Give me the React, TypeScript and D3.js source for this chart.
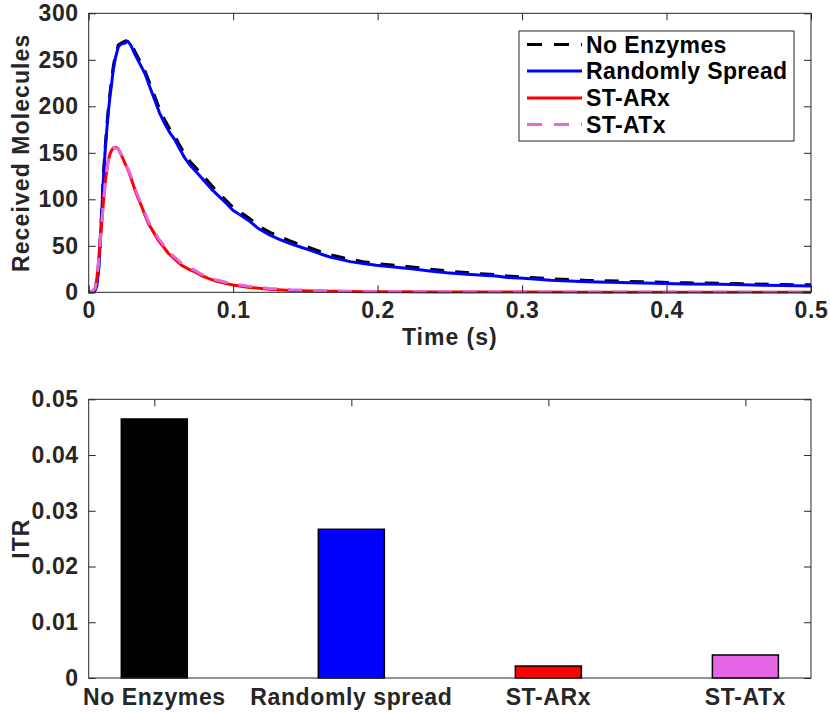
import React, { useEffect, useRef } from "react";
import * as d3 from "d3";

// received molecules vs time
const timeFull = [0, 0.002, 0.004, 0.0055, 0.0068, 0.0078, 0.009, 0.0101, 0.0113, 0.0125, 0.0136, 0.0147, 0.016, 0.017, 0.0185, 0.0205, 0.0225, 0.0251, 0.027, 0.029, 0.032, 0.035, 0.039, 0.0425, 0.0459, 0.049, 0.0528, 0.056, 0.0597, 0.063, 0.0667, 0.07, 0.0736, 0.077, 0.0805, 0.085, 0.0897, 0.095, 0.1, 0.105, 0.1117, 0.118, 0.1255, 0.132, 0.139, 0.146, 0.153, 0.16, 0.167, 0.174, 0.181, 0.19, 0.199, 0.206, 0.213, 0.225, 0.236, 0.248, 0.259, 0.27, 0.282, 0.29, 0.301, 0.32, 0.345, 0.368, 0.391, 0.414, 0.437, 0.46, 0.48, 0.5];
const noEnzymes = [0, 0, 1, 7, 24, 52, 88, 124, 154, 178, 198, 214, 230, 243, 255, 266, 268, 270, 271, 269, 259, 250, 238, 224, 210, 197, 185, 176, 168, 158, 148, 141, 135, 129, 123, 115, 107, 99, 91, 86, 79, 71, 64.5, 60, 55.5, 51.5, 48, 44, 40.5, 38, 35.5, 33, 31, 30, 29, 27, 25, 23, 21.5, 20, 19, 17.5, 16.5, 14.5, 12.8, 12, 11, 10.2, 9.8, 9, 8.4, 8];
const randomlySpread = [0, 0, 1, 6, 22, 49, 85, 120, 150, 174, 194, 210, 226, 239, 252, 264, 267, 268, 270, 266, 256, 247, 235, 220, 206, 193, 181, 172, 164, 154, 144, 137, 131, 125, 119, 111, 104, 96, 88, 83, 76, 68, 61.5, 57, 52.6, 49, 45.4, 41.5, 38, 35.5, 33, 31, 29, 28, 27, 25, 23, 21, 19.6, 18.5, 17.5, 16, 15, 13, 11.4, 10.5, 9.6, 9, 8.6, 7.8, 7.2, 6.8];

const timeFast = [0, 0.002, 0.0044, 0.0056, 0.0067, 0.0078, 0.009, 0.0101, 0.0113, 0.0125, 0.0136, 0.0148, 0.0159, 0.0172, 0.0187, 0.0205, 0.0228, 0.025, 0.0274, 0.0297, 0.032, 0.0343, 0.0367, 0.039, 0.0413, 0.0448, 0.0482, 0.0517, 0.0551, 0.06, 0.0644, 0.069, 0.0736, 0.078, 0.0828, 0.088, 0.0944, 0.1, 0.11, 0.125, 0.14, 0.155, 0.17, 0.19, 0.21, 0.24, 0.27, 0.3, 0.35, 0.4, 0.45, 0.5];
const stARx = [0, 0, 4, 14, 31, 52, 74, 96, 117, 131, 142, 149, 153, 155, 156, 154, 147, 139, 131, 121, 110, 101, 92, 83, 74, 65, 56, 49, 42, 35, 29, 25, 22, 18, 15, 12, 9.6, 7.8, 5.5, 3.2, 2, 1.4, 1, 0.7, 0.5, 0.4, 0.3, 0.2, 0.1, 0.1, 0.05, 0];
const stATx = [0, 0, 4, 13, 30, 51, 73, 95, 116, 131, 142, 150, 154, 156, 155, 154, 148, 140, 132, 123, 112, 103, 94, 85, 76, 67, 58, 51, 44, 37, 31, 27, 23.5, 19.5, 16.5, 13.5, 11, 9, 6.8, 4.2, 2.8, 2, 1.5, 1.1, 0.8, 0.6, 0.5, 0.4, 0.3, 0.2, 0.2, 0.1];

const timeTicks = [0, 0.1, 0.2, 0.3, 0.4, 0.5];
const moleculeTicks = [0, 50, 100, 150, 200, 250, 300];

// ITR bars
const barLabels = ["No Enzymes", "Randomly spread", "ST-ARx", "ST-ATx"];
const itrValues = [0.04647, 0.02668, 0.00215, 0.00413];
const itrTicks = [0, 0.01, 0.02, 0.03, 0.04, 0.05];

const FONT = "'Liberation Sans', Arial, Helvetica, sans-serif";
const AXIS = "#262626";

const App: React.FC = () => {
  const svgRef = useRef<SVGSVGElement | null>(null);

  useEffect(() => {
    const width = 830;
    const height = 713;
    const svg = d3.select(svgRef.current);
    svg.selectAll("*").remove();
    svg.attr("width", width).attr("height", height);

    const left = 88.7;
    const right = 811;
    const fs = 23;

    const styleAxis = (g: any) => {
      g.select(".domain").remove();
      g.selectAll("line").attr("stroke", AXIS).attr("stroke-width", 1);
      g.selectAll("text")
        .attr("fill", "#262626")
        .attr("font-family", FONT)
        .attr("font-weight", "bold")
        .attr("font-size", fs)
        .attr("letter-spacing", 0.6);
    };

    // ---------- top: received molecules ----------
    const t1 = 13.3;
    const b1 = 292.3;
    const x = d3.scaleLinear().domain([0, 0.5]).range([left, right]);
    const y = d3.scaleLinear().domain([0, 300]).range([b1, t1]);

    svg.append("rect")
      .attr("x", left).attr("y", t1)
      .attr("width", right - left).attr("height", b1 - t1)
      .attr("fill", "white");

    const line = d3.line<[number, number]>().x(d => x(d[0])).y(d => y(d[1]));
    const series = [
      { name: "No Enzymes", t: timeFull, v: noEnzymes, color: "#000000", dash: "14,11" },
      { name: "Randomly Spread", t: timeFull, v: randomlySpread, color: "#0000ff", dash: null },
      { name: "ST-ARx", t: timeFast, v: stARx, color: "#ff0000", dash: null },
      { name: "ST-ATx", t: timeFast, v: stATx, color: "#e566e5", dash: "14,11" },
    ];

    series.forEach(s => {
      const pts = s.t.map((t, i) => [t, s.v[i]] as [number, number]);
      svg.append("path")
        .attr("d", line(pts))
        .attr("fill", "none")
        .attr("stroke", s.color)
        .attr("stroke-width", 3)
        .attr("stroke-linejoin", "round")
        .attr("stroke-dasharray", s.dash);
    });

    svg.append("g")
      .attr("transform", `translate(0,${b1})`)
      .call(d3.axisBottom(x).tickValues(timeTicks).tickSize(-7).tickPadding(9).tickFormat(d => (+d === 0 ? "0" : d3.format(".1f")(+d))))
      .call(styleAxis);
    svg.append("g")
      .attr("transform", `translate(0,${t1})`)
      .call(d3.axisTop(x).tickValues(timeTicks).tickSize(-7).tickFormat(() => ""))
      .call(styleAxis);
    svg.append("g")
      .attr("transform", `translate(${left},0)`)
      .call(d3.axisLeft(y).tickValues(moleculeTicks).tickSize(-7).tickPadding(10))
      .call(styleAxis);
    svg.append("g")
      .attr("transform", `translate(${right},0)`)
      .call(d3.axisRight(y).tickValues(moleculeTicks).tickSize(-7).tickFormat(() => ""))
      .call(styleAxis);

    svg.append("rect")
      .attr("x", left).attr("y", t1)
      .attr("width", right - left).attr("height", b1 - t1)
      .attr("fill", "none").attr("stroke", AXIS).attr("stroke-width", 1);

    // legend
    const legend = svg.append("g");
    legend.append("rect")
      .attr("x", 519).attr("y", 31).attr("width", 275).attr("height", 110)
      .attr("fill", "white").attr("stroke", AXIS).attr("stroke-width", 1);
    const rowY = [44.5, 71, 98, 124.5];
    series.forEach((s, i) => {
      legend.append("line")
        .attr("x1", 527).attr("x2", 582)
        .attr("y1", rowY[i]).attr("y2", rowY[i])
        .attr("stroke", s.color).attr("stroke-width", 3)
        .attr("stroke-dasharray", s.dash ? "15,12" : null);
      legend.append("text")
        .attr("x", 586).attr("y", rowY[i] + 8)
        .attr("font-family", FONT).attr("font-weight", "bold")
        .attr("font-size", fs).attr("letter-spacing", 0.4)
        .attr("fill", "#000")
        .text(s.name);
    });

    svg.append("text")
      .attr("x", (left + right) / 2).attr("y", 345)
      .attr("text-anchor", "middle")
      .attr("font-family", FONT).attr("font-weight", "bold")
      .attr("font-size", fs).attr("letter-spacing", 1)
      .attr("fill", "#262626")
      .text("Time (s)");

    svg.append("text")
      .attr("transform", `translate(28.5,${(t1 + b1) / 2}) rotate(-90)`)
      .attr("text-anchor", "middle")
      .attr("font-family", FONT).attr("font-weight", "bold")
      .attr("font-size", fs).attr("letter-spacing", 1.1)
      .attr("fill", "#262626")
      .text("Received Molecules");

    // ---------- bottom: ITR bars ----------
    const t2 = 399.3;
    const b2 = 678;
    const xb = d3.scaleLinear().domain([0.667, 4.333]).range([left, right]);
    const yb = d3.scaleLinear().domain([0, 0.05]).range([b2, t2]);
    const barColors = ["#000000", "#0000ff", "#ff0000", "#e566e5"];
    const barW = 0.335;

    svg.append("g")
      .attr("transform", `translate(0,${t2})`)
      .call(d3.axisTop(xb).tickValues([1, 2, 3, 4]).tickSize(-7).tickFormat(() => ""))
      .call(styleAxis);
    svg.append("g")
      .attr("transform", `translate(${left},0)`)
      .call(d3.axisLeft(yb).tickValues(itrTicks).tickSize(-7).tickPadding(10).tickFormat(d => (+d === 0 ? "0" : d3.format(".2f")(+d))))
      .call(styleAxis);
    svg.append("g")
      .attr("transform", `translate(${right},0)`)
      .call(d3.axisRight(yb).tickValues(itrTicks).tickSize(-7).tickFormat(() => ""))
      .call(styleAxis);

    svg.append("g")
      .selectAll("rect")
      .data(itrValues)
      .join("rect")
      .attr("x", (d, i) => xb(i + 1 - barW / 2))
      .attr("width", (d, i) => xb(i + 1 + barW / 2) - xb(i + 1 - barW / 2))
      .attr("y", d => yb(d))
      .attr("height", d => yb(0) - yb(d))
      .attr("fill", (d, i) => barColors[i])
      .attr("stroke", "#000")
      .attr("stroke-width", 1.5);

    svg.append("rect")
      .attr("x", left).attr("y", t2)
      .attr("width", right - left).attr("height", b2 - t2)
      .attr("fill", "none").attr("stroke", AXIS).attr("stroke-width", 1);

    svg.append("g")
      .selectAll("text")
      .data(barLabels)
      .join("text")
      .attr("x", (d, i) => xb(i + 1))
      .attr("y", 705)
      .attr("text-anchor", "middle")
      .attr("font-family", FONT).attr("font-weight", "bold")
      .attr("font-size", fs).attr("letter-spacing", 0.6)
      .attr("fill", "#262626")
      .text(d => d);

    svg.append("text")
      .attr("transform", `translate(28.5,${(t2 + b2) / 2}) rotate(-90)`)
      .attr("text-anchor", "middle")
      .attr("font-family", FONT).attr("font-weight", "bold")
      .attr("font-size", fs).attr("letter-spacing", 1.1)
      .attr("fill", "#262626")
      .text("ITR");
  }, []);

  return (
    <svg
      ref={svgRef}
      style={{ position: "absolute", left: 0, top: 0, background: "white" }}
    ></svg>
  );
};

export default App;
